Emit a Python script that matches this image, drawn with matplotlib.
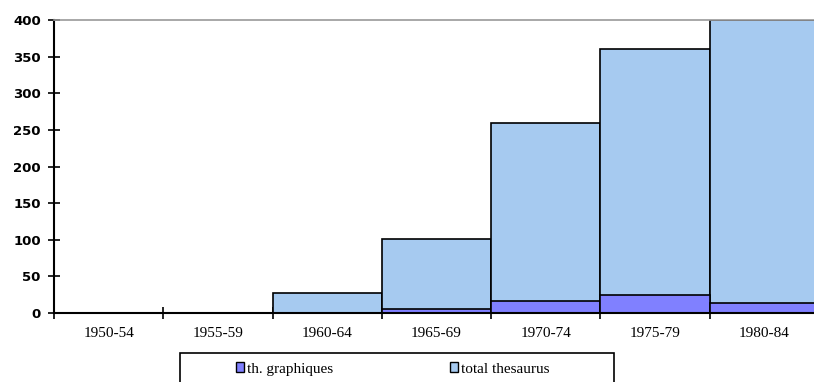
import matplotlib.pyplot as plt
from matplotlib.patches import Rectangle
import numpy as np

periods = ['1950-54', '1955-59', '1960-64', '1965-69', '1970-74', '1975-79', '1980-84']
total_thesaurus = [0, 0, 27, 101, 260, 360, 400]
th_graphiques = [0, 0, 0, 5, 16, 25, 13]

fig = plt.figure(figsize=(8.14, 3.82), dpi=100)
W, H = 814, 382
ax = fig.add_axes([54 / W, (H - 313) / H, 765 / W, 293 / H])

x = np.arange(len(periods))
ax.bar(x, total_thesaurus, width=1.0, color='#a6caf0', edgecolor='black', linewidth=1.2,
       label='total thesaurus', zorder=2)
ax.bar(x, th_graphiques, width=1.0, color='#8080ff', edgecolor='black', linewidth=1.2,
       label='th. graphiques', zorder=3)

ax.set_xlim(-0.5, len(periods) - 0.5)
ax.set_ylim(0, 400)
ax.set_yticks(range(0, 401, 50))
ax.set_xticks(x)
ax.set_xticklabels(periods, fontfamily='Liberation Serif', fontsize=11)
ax.set_xticks(np.arange(-0.5, len(periods)), minor=True)
ax.tick_params(axis='x', which='major', length=0, pad=10)
ax.tick_params(axis='x', which='minor', length=8, width=1.2, direction='inout')
ax.tick_params(axis='y', length=9, width=1.2, direction='inout', pad=5)
for lbl in ax.get_yticklabels():
    lbl.set_fontfamily('DejaVu Sans')
    lbl.set_fontsize(9.5)
    lbl.set_fontweight('bold')

ax.spines['right'].set_visible(False)
ax.spines['top'].set_color('#999999')
ax.spines['top'].set_linewidth(1.2)
ax.spines['left'].set_linewidth(1.5)
ax.spines['bottom'].set_linewidth(1.5)
ax.spines['bottom'].set_zorder(5)

# legend box, partly cut off by the figure edge
fig.patches.append(Rectangle((180 / W, -0.05), 434 / W, (H - 353) / H + 0.05,
                             transform=fig.transFigure, fill=False,
                             edgecolor='black', linewidth=1.2))
handles, labels = ax.get_legend_handles_labels()
leg = fig.legend(handles[::-1], labels[::-1], ncol=2, frameon=False,
                 loc='center left', bbox_to_anchor=(236 / W, (H - 369) / H),
                 prop={'family': 'Liberation Serif', 'size': 11},
                 handlelength=0.55, handleheight=0.6, handletextpad=0.2,
                 columnspacing=7.6, borderpad=0, borderaxespad=0)
for h in leg.legend_handles:
    h.set_linewidth(1.0)

fig.savefig('out.png', dpi=100)
